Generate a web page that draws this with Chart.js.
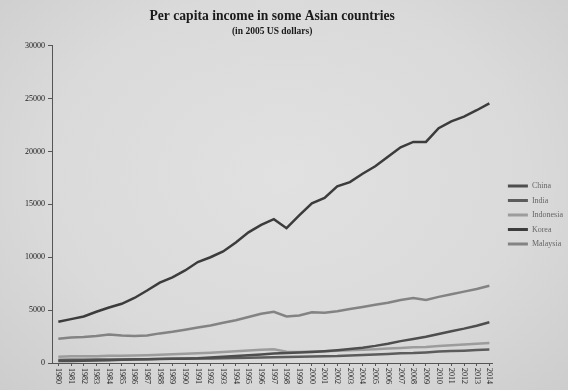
<!DOCTYPE html>
<html>
<head>
<meta charset="utf-8">
<script src="https://cdn.jsdelivr.net/npm/chart.js@4/dist/chart.umd.min.js"></script>
<style>
html,body{margin:0;padding:0;}
body{width:568px;height:390px;overflow:hidden;
background:radial-gradient(ellipse at 50% 45%, #e1e1e1 0%, #dadada 60%, #cdcdcd 100%);}
#wrap{position:relative;width:568px;height:390px;}
</style>
</head>
<body>
<div id="wrap"><canvas id="c" width="568" height="390"></canvas></div>
<script>
const years = [1980,1981,1982,1983,1984,1985,1986,1987,1988,1989,1990,1991,1992,1993,1994,1995,1996,1997,1998,1999,2000,2001,2002,2003,2004,2005,2006,2007,2008,2009,2010,2011,2012,2013,2014];
const china = [190,200,215,235,265,300,320,350,385,395,405,440,520,600,670,730,810,890,940,990,1050,1120,1210,1320,1450,1620,1820,2070,2270,2480,2750,3010,3250,3530,3850];
const india = [290,300,305,320,325,340,350,360,390,405,420,415,430,445,470,495,525,545,570,600,615,640,655,700,745,800,860,920,940,1000,1080,1130,1170,1220,1270];
const indonesia = [600,630,630,650,680,690,710,740,770,820,870,920,970,1030,1100,1180,1260,1300,1060,1050,1090,1120,1160,1200,1250,1300,1360,1420,1480,1520,1600,1670,1750,1810,1880];
const korea = [3900,4150,4400,4850,5250,5600,6150,6850,7600,8100,8750,9550,10000,10550,11400,12350,13050,13600,12750,13950,15100,15600,16700,17100,17900,18600,19500,20400,20900,20900,22200,22850,23300,23900,24550];
const malaysia = [2300,2400,2450,2550,2700,2600,2550,2600,2800,2950,3150,3350,3550,3800,4050,4350,4650,4850,4400,4500,4800,4750,4900,5100,5300,5500,5700,5950,6150,5950,6250,6500,6750,7000,7300];
const seriesNames = ['China','India','Indonesia','Korea','Malaysia'];
const yTicks = [0,5000,10000,15000,20000,25000,30000];
const titleText = 'Per capita income in some Asian countries';
const subtitleText = '(in 2005 US dollars)';

const FONT = "'Liberation Serif', 'Times New Roman', serif";
const colors = ['#4e4e4e','#5c5c5c','#9c9c9c','#3c3c3c','#838383'];
const allData = [china, india, indonesia, korea, malaysia];

const datasets = seriesNames.map((n,i)=>({
  label:n,
  data: years.map((y,j)=>({x:y, y:allData[i][j]})),
  borderColor: colors[i],
  backgroundColor: colors[i],
  borderWidth: 2.5,
  pointRadius: 0,
  tension: 0,
  fill:false
}));

const xLabelPlugin = {
  id:'xLabels',
  afterDraw(chart){
    const ctx = chart.ctx;
    const xs = chart.scales.x;
    ctx.save();
    ctx.font = "8px " + FONT;
    ctx.fillStyle = '#222';
    ctx.textAlign = 'left';
    ctx.textBaseline = 'middle';
    years.forEach(y=>{
      const px = xs.getPixelForValue(y);
      ctx.save();
      ctx.translate(px, chart.chartArea.bottom + 5);
      ctx.rotate(Math.PI/2);
      ctx.fillText(String(y), 0, 0);
      ctx.restore();
    });
    ctx.restore();
  }
};

new Chart(document.getElementById('c'), {
  type:'line',
  data:{datasets},
  plugins:[xLabelPlugin],
  options:{
    responsive:false,
    animation:false,
    events:[],
    layout:{padding:{left:0,right:-5,top:0,bottom:0}},
    plugins:{
      title:{display:true,text:titleText,fullSize:false,
        font:{family:FONT,size:13.6,weight:'bold'},color:'#1a1a1a',
        padding:{top:8.5,bottom:0}},
      subtitle:{display:true,text:subtitleText,fullSize:false,
        font:{family:FONT,size:9.5,weight:'bold'},color:'#1a1a1a',
        padding:{top:1,bottom:8.5}},
      legend:{position:'right',align:'center',
        title:{display:true,text:' ',font:{family:FONT,size:8},padding:{top:30.4,bottom:0}},
        labels:{font:{family:FONT,size:8},color:'#1a1a1a',boxWidth:20,boxHeight:3,padding:6.5,
          generateLabels(chart){
            return chart.data.datasets.map((d,i)=>({text:d.label,fillStyle:d.borderColor,strokeStyle:d.borderColor,lineWidth:0,datasetIndex:i,hidden:false}));
          }}},
      tooltip:{enabled:false}
    },
    scales:{
      x:{type:'linear',min:1979.5,max:2014.24,
        afterBuildTicks(s){s.ticks = years.map(v=>({value:v}));},
        afterFit(s){s.height = 27;},
        ticks:{display:false},
        grid:{drawOnChartArea:false,drawTicks:true,tickLength:3,color:'#555',lineWidth:1},
        border:{display:true,color:'#555',width:1}
      },
      y:{min:0,max:30000,
        afterBuildTicks(s){s.ticks = yTicks.map(v=>({value:v}));},
        afterFit(s){s.width = 52;},
        ticks:{font:{family:FONT,size:8},color:'#1a1a1a',padding:3,callback:v=>String(v)},
        grid:{drawOnChartArea:false,drawTicks:true,tickLength:4,color:'#555',lineWidth:1},
        border:{display:true,color:'#555',width:1}
      },
      yGap:{position:'right',min:0,max:1,
        afterFit(s){s.width = 9;},
        ticks:{display:false},
        grid:{display:false,drawTicks:false},
        border:{display:false}
      }
    }
  }
});
</script>
</body>
</html>
